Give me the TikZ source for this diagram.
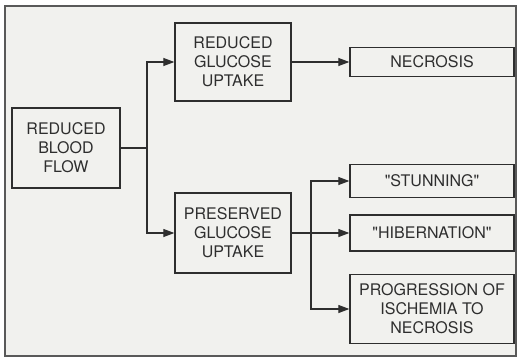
\documentclass[tikz,border=0pt]{standalone}
\usepackage{fontspec}
\setmainfont{TeX Gyre Heros}
\usepackage{tikz}
\usetikzlibrary{arrows.meta,positioning,calc}
\definecolor{scanBg}{HTML}{F1F1EE}
\definecolor{inkGray}{HTML}{2E2E2E}

\begin{document}
\begin{tikzpicture}[
    x=1pt, y=-1pt,
    font=\fontsize{16}{19}\selectfont,
    box/.style={draw=inkGray, rectangle, line width=1.3pt, align=center, text=inkGray, inner sep=2pt},
    arrow/.style={-{Triangle[length=11pt,width=8pt]}, line width=1.1pt, draw=inkGray}
]
    \useasboundingbox (0,0) rectangle (519,362);
    \draw[fill=scanBg, draw=gray!70!black, line width=1.6pt] (5,6) rectangle (516,356);

    \node[box, minimum width=108pt, minimum height=80pt] (flow) at (66,148) {REDUCED\\BLOOD\\FLOW};
    \node[box, minimum width=116pt, minimum height=78pt] (reduced) at (233,62) {REDUCED\\GLUCOSE\\UPTAKE};
    \node[box, minimum width=116pt, minimum height=80pt] (preserved) at (233,233) {PRESERVED\\GLUCOSE\\UPTAKE};

    \node[box, minimum width=164pt, minimum height=29pt] (necrosis) at (432,62) {NECROSIS};
    \node[box, minimum width=164pt, minimum height=33pt] (stunning) at (432,181) {\textquotedbl STUNNING\textquotedbl};
    \node[box, minimum width=164pt, minimum height=36pt] (hibernation) at (432,233) {\textquotedbl HIBERNATION\textquotedbl};
    \node[box, minimum width=164pt, minimum height=69pt] (progression) at (432,309) {PROGRESSION OF\\ISCHEMIA TO\\NECROSIS};

    % branch points
    \coordinate (split1) at (147,148);
    \coordinate (split2) at (311,233);

    \draw[line width=1.1pt, draw=inkGray] (flow) -- (split1);
    \draw[arrow] (split1) |- (reduced);
    \draw[arrow] (split1) |- (preserved);

    \draw[arrow] (reduced) -- (necrosis);
    \draw[arrow] (preserved) -- (hibernation);
    \draw[arrow] (split2) |- (stunning);
    \draw[arrow] (split2) |- (progression);
\end{tikzpicture}
\end{document}
